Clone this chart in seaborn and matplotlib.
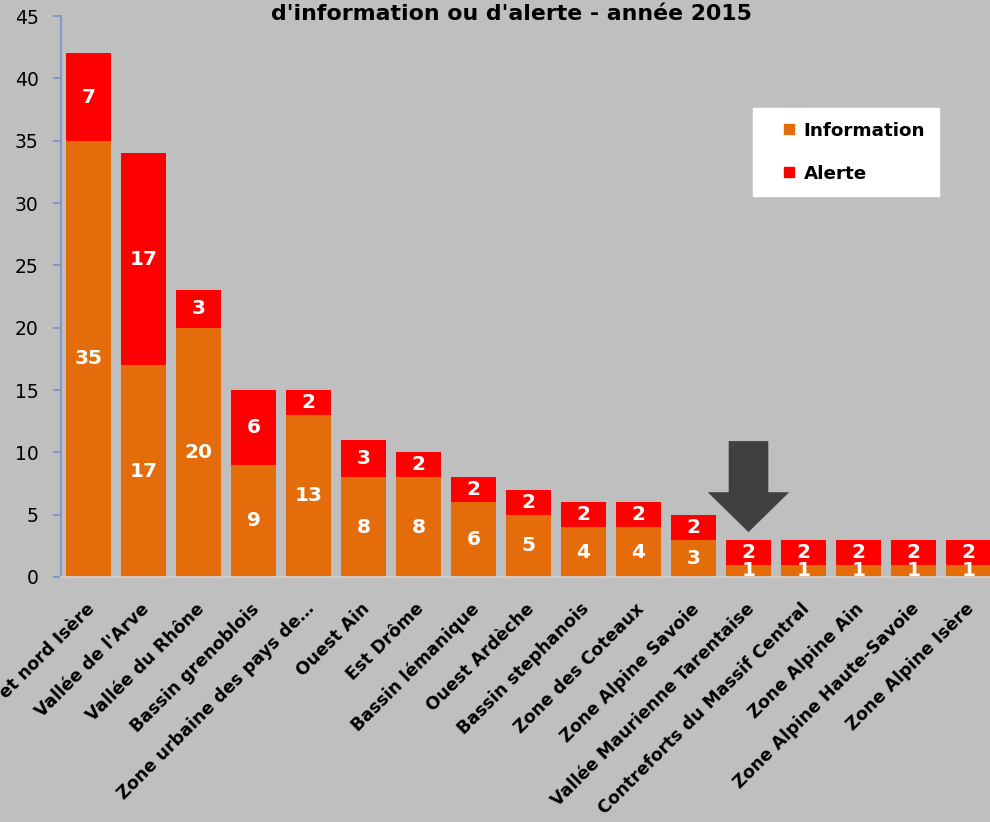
import matplotlib
matplotlib.use("Agg")
import matplotlib.pyplot as plt
import matplotlib.transforms as mtransforms
import seaborn as sns
import pandas as pd
from matplotlib.patches import FancyArrow
from matplotlib.lines import Line2D

categories = [
    "Bassin lyonnais et nord Isère", "Vallée de l'Arve", "Vallée du Rhône",
    "Bassin grenoblois", "Zone urbaine des pays de…", "Ouest Ain", "Est Drôme",
    "Bassin lémanique", "Ouest Ardèche", "Bassin stephanois", "Zone des Coteaux",
    "Zone Alpine Savoie", "Vallée Maurienne Tarentaise",
    "Contreforts du Massif Central", "Zone Alpine Ain",
    "Zone Alpine Haute-Savoie", "Zone Alpine Isère",
]
information = [35, 17, 20, 9, 13, 8, 8, 6, 5, 4, 4, 3, 1, 1, 1, 1, 1]
alerte = [7, 17, 3, 6, 2, 3, 2, 2, 2, 2, 2, 2, 2, 2, 2, 2, 2]
title_line = "d'information ou d'alerte - année 2015"

BG = "#bfbfbf"
ORANGE = "#e46c0a"
RED = "#ff0000"
FONT = "DejaVu Sans"

sns.set_theme(style="white")
plt.rcParams["font.family"] = [FONT]
plt.rcParams["text.color"] = "black"

df = pd.DataFrame({"zone": categories, "info": information, "alerte": alerte})
df["total"] = df["info"] + df["alerte"]

W, H = 990, 822
fig = plt.figure(figsize=(W / 100, H / 100), dpi=100, facecolor=BG)
ax_left, ax_right, ax_top, ax_bot = 61, 996, 16, 577
ax = fig.add_axes([ax_left / W, 1 - ax_bot / H, (ax_right - ax_left) / W, (ax_bot - ax_top) / H])
ax.set_facecolor(BG)

sns.barplot(data=df, x="zone", y="total", color=RED, saturation=1, width=0.82, ax=ax, linewidth=0)
sns.barplot(data=df, x="zone", y="info", color=ORANGE, saturation=1, width=0.82, ax=ax, linewidth=0)

ax.set_xlim(-0.5, len(categories) - 0.5)
ax.set_ylim(0, 45)
ax.set_yticks(range(0, 46, 5))
ax.set_xlabel("")
ax.set_ylabel("")

for sp in ["top", "right"]:
    ax.spines[sp].set_visible(False)
ax.spines["left"].set_color("#7097cc")
ax.spines["left"].set_linewidth(1.2)
ax.spines["bottom"].set_color("#d4d4d4")
ax.spines["bottom"].set_linewidth(1.2)

ax.tick_params(axis="y", which="major", left=True, length=6, width=1.2, color="#7097cc",
               labelsize=13.5, labelcolor="black", pad=10)
ax.tick_params(axis="x", bottom=False, length=0, pad=21, labelcolor="black")
ax.set_xticks(range(len(categories)))
ax.set_xticklabels(categories, rotation=45, ha="right", va="center",
                   rotation_mode="anchor", fontsize=12.5, fontweight="bold", color="black")
shift = mtransforms.ScaledTranslation(3 / 100, 0, fig.dpi_scale_trans)
for lbl in ax.get_xticklabels():
    lbl.set_transform(lbl.get_transform() + shift)

# data labels
for i, (inf, al) in enumerate(zip(information, alerte)):
    ax.text(i, inf / 2, str(inf), ha="center", va="center", color="white",
            fontsize=14.5, fontweight="bold")
    ax.text(i, inf + al / 2, str(al), ha="center", va="center", color="white",
            fontsize=14.5, fontweight="bold")

# arrow
arrow = FancyArrow(12, 10.9, 0, -7.3, width=0.72, head_width=1.48, head_length=3.2,
                   length_includes_head=True, color="#404040", linewidth=0)
ax.add_patch(arrow)

# legend
handles = [Line2D([], [], linestyle="none", marker="s", markersize=7.5,
                  markerfacecolor=ORANGE, markeredgecolor=ORANGE, label="Information"),
           Line2D([], [], linestyle="none", marker="s", markersize=7.5,
                  markerfacecolor=RED, markeredgecolor=RED, label="Alerte")]
leg = fig.legend(handles=handles, loc="upper left",
                 bbox_to_anchor=(753 / W, 1 - 108 / H), frameon=True, fancybox=False,
                 facecolor="white", edgecolor="white", framealpha=1,
                 prop={"family": FONT, "weight": "bold", "size": 13.2},
                 handlelength=2.4, handletextpad=-0.4,
                 labelspacing=1.35, borderpad=0.75, borderaxespad=0)
for t in leg.get_texts():
    t.set_color("black")

fig.text(511 / W, 1 - 14 / H, title_line, ha="center", va="center",
         fontsize=15.8, fontweight="bold", color="black")

fig.savefig("out.png", dpi=100, facecolor=BG)
